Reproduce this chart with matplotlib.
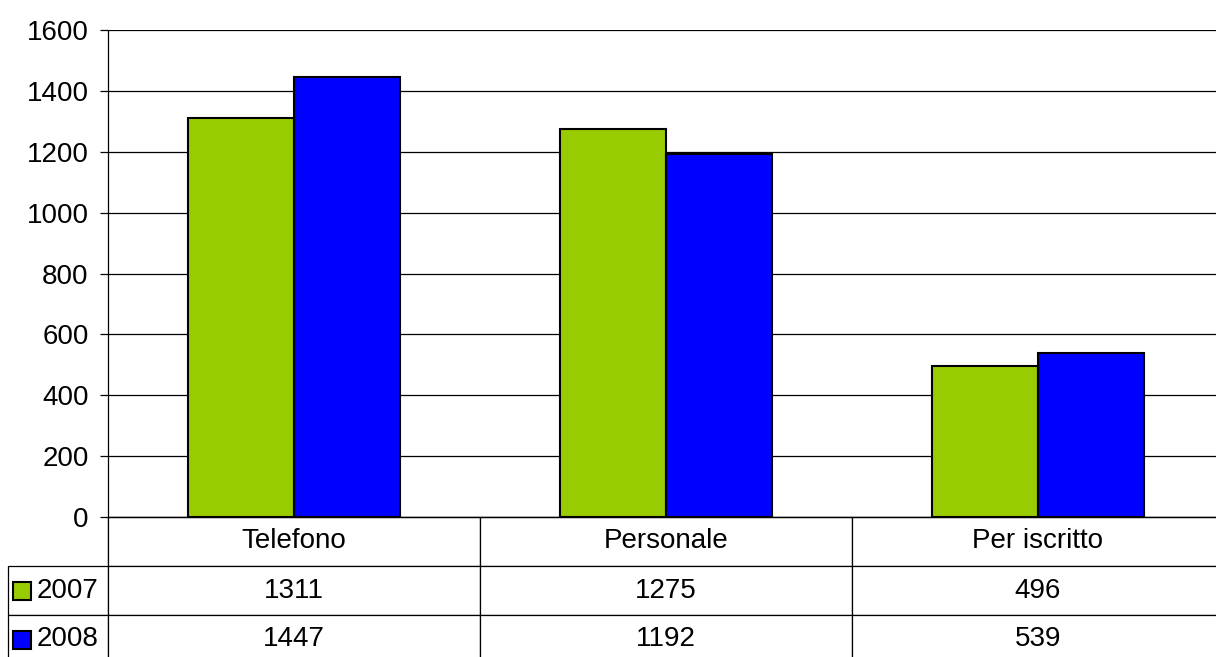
import matplotlib.pyplot as plt
from matplotlib.patches import Rectangle

plt.rcParams['font.family'] = ['Liberation Sans', 'DejaVu Sans']

categories = ['Telefono', 'Personale', 'Per iscritto']
years = ['2007', '2008']
values_2007 = [1311, 1275, 496]
values_2008 = [1447, 1192, 539]
colors = ['#99cc00', '#0000ff']

W, H = 1216, 657
fig = plt.figure(figsize=(W / 100, H / 100), dpi=100)
# plot area in pixels: left 108, top 30, bottom 517
ax = fig.add_axes([108 / W, (H - 517) / H, (W - 108) / W, (517 - 30) / H])

col_px = 372.0
bw = 0.285
x = range(len(categories))
ax.bar([i - bw / 2 for i in x], values_2007, bw, color=colors[0], edgecolor='black', linewidth=1.5, zorder=3)
ax.bar([i + bw / 2 for i in x], values_2008, bw, color=colors[1], edgecolor='black', linewidth=1.5, zorder=3)

ax.set_xlim(-0.5, -0.5 + (W - 108) / col_px)
ax.set_ylim(0, 1600)
ax.set_yticks(range(0, 1601, 200))
ax.yaxis.grid(True, color='black', linewidth=0.9, zorder=0)
ax.tick_params(axis='y', labelsize=20, length=6, width=0.9, pad=8)
ax.set_xticks([])
for s in ['top', 'right']:
    ax.spines[s].set_visible(False)
ax.spines['left'].set_linewidth(0.9)
ax.spines['bottom'].set_linewidth(0.9)

# data table under the plot (first column holds the year labels)
ax_w = W - 108
ax_h = 517 - 30
row_h = 49
lab_w = 100
rows = [[years[0]] + [str(v) for v in values_2007],
        [years[1]] + [str(v) for v in values_2008]]
tbl = ax.table(cellText=rows, colLabels=[''] + categories,
               colWidths=[lab_w] + [col_px] * 3, cellLoc='center',
               bbox=[-lab_w / ax_w, -3 * row_h / ax_h, (lab_w + 3 * col_px) / ax_w, 3 * row_h / ax_h])
tbl.auto_set_font_size(False)
tbl.set_fontsize(20)
for (r, c), cell in tbl.get_celld().items():
    cell.set_linewidth(0.9)
    if c == 0:
        if r == 0:
            cell.visible_edges = 'R'
        else:
            cell.get_text().set_horizontalalignment('left')
            cell.PAD = 0.29

# legend keys in the row label cells
for k, col in enumerate(colors):
    yc = 1 - (517 + row_h * (k + 1.5)) / H
    fig.patches.append(Rectangle((13 / W, yc - 9 / H), 18 / W, 18 / H, transform=fig.transFigure,
                                 facecolor=col, edgecolor='black', linewidth=1.5, figure=fig))

fig.savefig('out.png', dpi=100)
